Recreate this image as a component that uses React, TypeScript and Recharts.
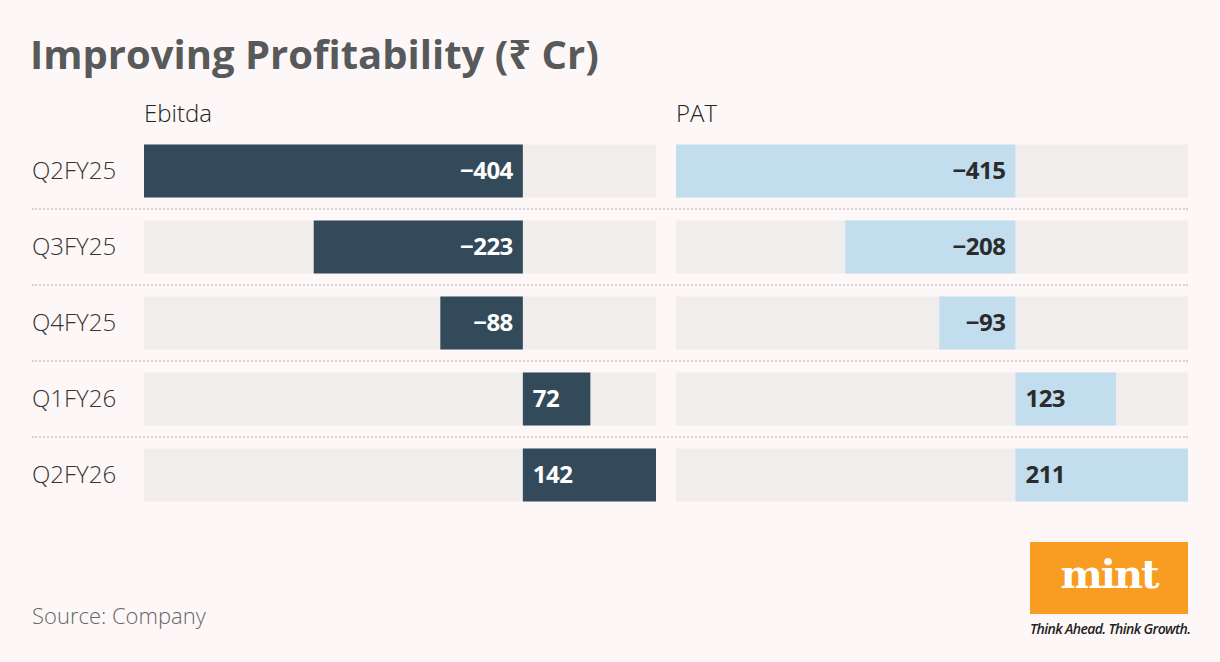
import React from "react";
import { BarChart, Bar, XAxis, YAxis, LabelList } from "recharts";

const quarters = ["Q2FY25", "Q3FY25", "Q4FY25", "Q1FY26", "Q2FY26"];
const ebitda = [-404, -223, -88, 72, 142];
const pat = [-415, -208, -93, 123, 211];

const data = quarters.map((q, i) => ({ q, ebitda: ebitda[i], pat: pat[i] }));

const BG = "#fdf8f7";
const TRACK = "#f2eded";
const FONT = "'Open Sans', 'Noto Sans', sans-serif";

const PLOT_TOP = 132.5;
const BAND = 76;

const fmt = (v: number) => (v < 0 ? "\u2212" + Math.abs(v) : String(v));

const makeLabel = (color: string) => (props: any) => {
  const { x, y, width, height, value } = props;
  const left = Math.min(x, x + width);
  const right = Math.max(x, x + width);
  const neg = value < 0;
  return (
    <text
      x={neg ? right - 10 : left + 10}
      y={y + height / 2}
      dy="0.35em"
      textAnchor={neg ? "end" : "start"}
      fill={color}
      fontFamily={FONT}
      fontWeight={700}
      fontSize={24}
      letterSpacing={-0.5}
    >
      {fmt(value)}
    </text>
  );
};

const QuarterTick = (props: any) => {
  const { y, payload } = props;
  return (
    <text x={12} y={y} dy="0.35em" textAnchor="start" fill="#333" fontFamily={FONT} fontWeight={300} fontSize={24}>
      {payload.value}
    </text>
  );
};

export default function App() {
  return (
    <div
      style={{
        position: "absolute",
        left: 0,
        top: 0,
        width: 1220,
        height: 662,
        background: BG,
        fontFamily: FONT,
        overflow: "hidden",
      }}
    >
      <div style={{ position: "absolute", left: 30, top: 26, fontSize: 40, fontWeight: 700, color: "#58595b", letterSpacing: 0 }}>
        Improving Profitability (₹ Cr)
      </div>
      <div style={{ position: "absolute", left: 144, top: 96, fontSize: 24, fontWeight: 300, color: "#222" }}>Ebitda</div>
      <div style={{ position: "absolute", left: 676, top: 96, fontSize: 24, fontWeight: 300, color: "#222" }}>PAT</div>

      {quarters.slice(1).map((q, i) => (
        <div
          key={q}
          style={{
            position: "absolute",
            left: 32,
            width: 1156,
            top: PLOT_TOP + BAND * (i + 1) - 1,
            borderTop: "2px dotted #d6d2d1",
          }}
        />
      ))}

      <div style={{ position: "absolute", left: 20, top: 0 }}>
        <BarChart
          width={636}
          height={530}
          data={data}
          layout="vertical"
          margin={{ top: PLOT_TOP, right: 0, bottom: 530 - PLOT_TOP - BAND * 5, left: 0 }}
        >
          <XAxis type="number" domain={[-404, 142]} hide />
          <YAxis type="category" dataKey="q" width={124} axisLine={false} tickLine={false} tick={<QuarterTick />} />
          <Bar dataKey="ebitda" fill="#324a59" barSize={53} background={{ fill: TRACK }} isAnimationActive={false}>
            <LabelList dataKey="ebitda" content={makeLabel("#ffffff")} />
          </Bar>
        </BarChart>
      </div>

      <div style={{ position: "absolute", left: 676, top: 0 }}>
        <BarChart
          width={512}
          height={530}
          data={data}
          layout="vertical"
          margin={{ top: PLOT_TOP, right: 0, bottom: 530 - PLOT_TOP - BAND * 5, left: 0 }}
        >
          <XAxis type="number" domain={[-415, 211]} hide />
          <YAxis type="category" dataKey="q" hide />
          <Bar dataKey="pat" fill="#c2ddee" barSize={53} background={{ fill: TRACK }} isAnimationActive={false}>
            <LabelList dataKey="pat" content={makeLabel("#2b2b2b")} />
          </Bar>
        </BarChart>
      </div>

      <div style={{ position: "absolute", left: 32, top: 600, fontSize: 22, fontWeight: 300, color: "#666" }}>
        Source: Company
      </div>

      <div
        style={{
          position: "absolute",
          left: 1030,
          top: 542,
          width: 158,
          height: 72,
          background: "#f89d21",
          color: "#fff",
          fontFamily: "'DejaVu Serif', 'Liberation Serif', serif",
          fontWeight: 700,
          fontSize: 40,
          textAlign: "center",
          lineHeight: "64px",
          letterSpacing: -2,
        }}
      >
        mint
      </div>
      <div
        style={{
          position: "absolute",
          left: 1030,
          top: 619,
          width: 164,
          fontSize: 14,
          fontStyle: "italic",
          fontWeight: 600,
          color: "#222",
          letterSpacing: -0.6,
          whiteSpace: "nowrap",
        }}
      >
        Think Ahead. Think Growth.
      </div>
    </div>
  );
}
